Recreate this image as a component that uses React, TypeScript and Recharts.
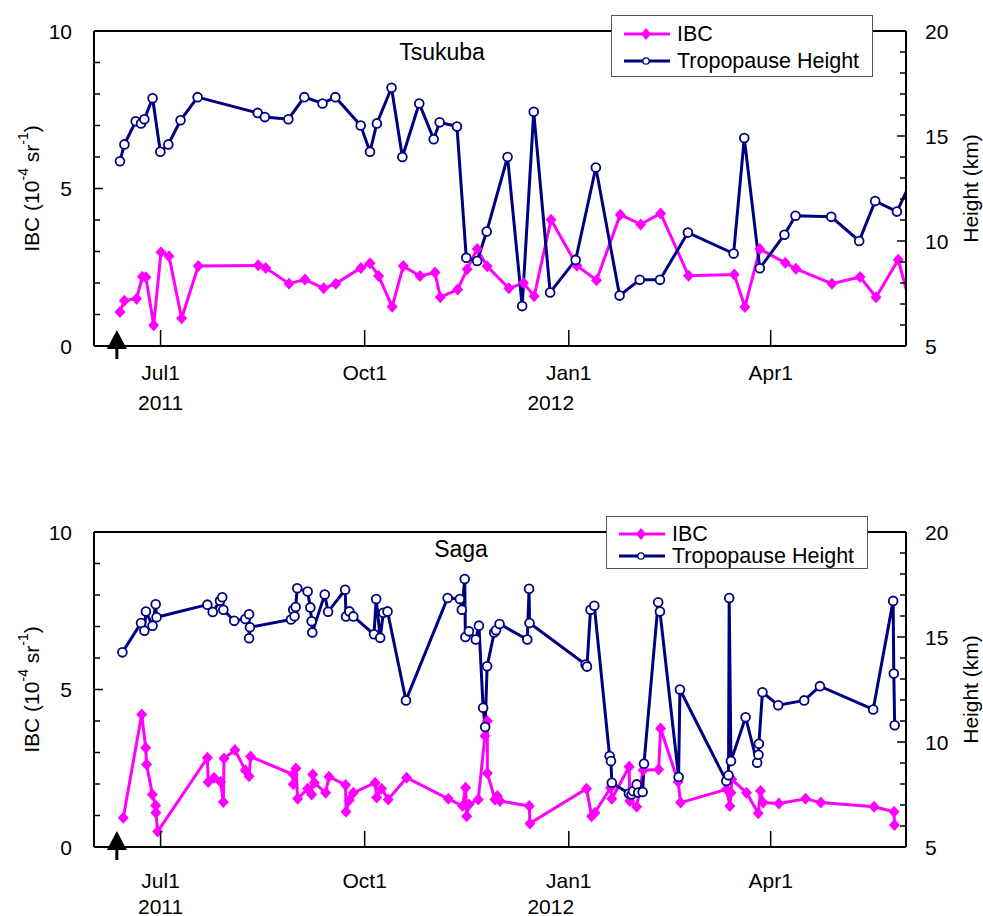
import { Legend, Line, LineChart, ReferenceDot, ReferenceLine, XAxis, YAxis } from 'recharts'

// day numbers counted from 1 Jun 2011
const MONTH_TICKS = [30, 122, 214, 305]
const MONTH_LABELS = ['Jul1', 'Oct1', 'Jan1', 'Apr1']
const YEAR_LABELS = ['2011', '', '2012', '']
const IBC_TICKS = [0, 1, 2, 3, 4, 5, 6, 7, 8, 9, 10]
const HEIGHT_TICKS = [5, 6, 7, 8, 9, 10, 11, 12, 13, 14, 15, 16, 17, 18, 19, 20]
const ARROW_DAY = 10.3

const tsukubaHeightDays = [
  11.7, 13.7, 18.8, 21.2, 22.7, 26.4, 29.9, 33.5, 39, 46.7, 73.8, 77, 87.6, 94.8, 103, 108.8,
  120.2, 124.4, 127.5, 134.1, 139, 146.6, 153.1, 155.8, 163.6, 167.8, 172.7, 177, 186.4, 193,
  198.2, 205.6, 217.1, 226.2, 236.9, 246, 255.1, 267.7, 288.3, 293.1, 300.1, 311.2, 316.2,
  332.3, 344.9, 352.1, 361.9, 369,
]
const tsukubaHeightKm = [
  13.8, 14.6, 15.7, 15.6, 15.8, 16.8, 14.25, 14.6, 15.75, 16.85, 16.1, 15.9, 15.8, 16.85, 16.55,
  16.85, 15.5, 14.25, 15.6, 17.3, 14.0, 16.55, 14.85, 15.65, 15.45, 9.2, 9.05, 10.45, 14.0, 6.9,
  16.15, 7.55, 9.1, 13.5, 7.4, 8.15, 8.15, 10.4, 9.4, 14.9, 8.7, 10.3, 11.2, 11.15, 10.0, 11.9,
  11.4, 13.0,
]
const tsukubaIbcDays = [
  11.7, 13.7, 19.2, 21.8, 23.4, 26.9, 30.2, 33.8, 39.5, 47, 74, 77.4, 87.9, 95.1, 103.5, 109,
  120.3, 124.4, 128.3, 134.4, 139.4, 146.9, 153.7, 156.1, 163.9, 168.2, 172.7, 177.2, 187,
  193.6, 198.4, 206, 217.7, 226.5, 237.2, 246.4, 255.4, 268, 288.6, 293.4, 300.1, 311.6, 316.4,
  332.6, 345.3, 352.5, 362.5, 368,
]
const tsukubaIbc = [
  1.08, 1.44, 1.5, 2.2, 2.18, 0.66, 2.98, 2.85, 0.88, 2.54, 2.56, 2.48, 1.98, 2.11, 1.83, 1.98,
  2.48, 2.63, 2.22, 1.25, 2.54, 2.22, 2.33, 1.55, 1.79, 2.44, 3.08, 2.53, 1.83, 2.0, 1.58, 4.01,
  2.55, 2.09, 4.17, 3.86, 4.21, 2.23, 2.27, 1.24, 3.08, 2.64, 2.45, 1.98, 2.19, 1.55, 2.74, 1.3,
]

const sagaHeightDays = [
  12.8, 21.2, 22.7, 23.4, 26.4, 27.8, 28.2, 51.1, 53.5, 56.8, 57.8, 58.3, 63.2, 68.2, 69.9, 69.9,
  70.3, 88.8, 89.8, 90.4, 90.9, 91.6, 96.3, 97.5, 98.1, 98.4, 104, 105.5, 113.2, 113.6, 115.1,
  116.9, 126.2, 127.2, 129, 130.4, 132.3, 140.6, 159.4, 164.9, 165.8, 167.1, 167.4, 169, 172.1,
  173.5, 175.4, 176.3, 177.2, 180.4, 181.2, 182.8, 195.3, 196.1, 196.3, 221.6, 222.2, 223.8,
  225.5, 232.4, 233.0, 233.4, 241.1, 242.3, 243, 244.6, 245.3, 247.3, 247.9, 254.3, 255.1,
  263.5, 264.1, 285, 286.0, 286.3, 287.1, 293.7, 298.9, 299.5, 299.7, 301.3, 308.4, 320.1,
  327.2, 351.2, 360.2, 360.5, 360.9,
]
const sagaHeightKm = [
  14.27, 15.67, 15.3, 16.21, 15.54, 16.56, 15.94, 16.54, 16.19, 16.73, 16.89, 16.3, 15.77, 15.86,
  16.08, 14.94, 15.46, 15.83, 16.3, 15.99, 16.43, 17.32, 17.17, 16.41, 15.75, 15.22, 17.02, 16.2,
  17.25, 15.98, 16.22, 15.98, 15.13, 16.81, 14.96, 16.15, 16.22, 11.98, 16.86, 16.81, 16.3,
  17.76, 15.0, 15.27, 14.88, 15.54, 11.63, 10.72, 13.61, 15.22, 15.32, 15.62, 14.88, 17.3,
  15.67, 13.69, 13.59, 16.3, 16.49, 9.33, 9.09, 8.06, 7.55, 7.5, 7.66, 7.98, 7.59, 7.62, 8.97,
  16.65, 16.21, 8.33, 12.5, 8.14, 8.42, 16.86, 9.09, 11.18, 9.01, 9.39, 9.92, 12.37, 11.75,
  11.98, 12.66, 11.55, 16.72, 13.26, 10.8,
]
const sagaIbcDays = [
  13.2, 21.5, 23.3, 23.7, 26.3, 27.8, 27.9, 28.7, 51.1, 51.5, 54.1, 57.1, 58.3, 58.6, 63.5, 68.2,
  69.9, 70.6, 89.8, 89.8, 91, 91.8, 96.3, 98.1, 98.6, 99.3, 104.4, 105.9, 113.4, 113.6, 115.1,
  116.9, 126.7, 127.4, 129.6, 132.6, 140.9, 159.7, 166.1, 167.5, 168, 169, 173.2, 176.2, 177.3,
  177.3, 180.7, 181.8, 183, 196.2, 196.5, 222, 224.3, 225.8, 232.8, 233.4, 241.2, 241.5, 244.6,
  247.5, 254.5, 255.4, 263.3, 264.4, 285.1, 286.6, 287.1, 287.5, 294.1, 299.4, 300.4, 301.6,
  308.7, 320.7, 327.6, 351.6, 360.6, 360.8,
]
const sagaIbc = [
  0.93, 4.21, 3.15, 2.62, 1.67, 1.32, 1.09, 0.49, 2.83, 2.06, 2.2, 2.06, 1.43, 2.81, 3.08, 2.44,
  2.25, 2.87, 2.3, 1.99, 2.49, 1.53, 1.85, 1.67, 2.3, 2.04, 1.72, 2.23, 1.97, 1.12, 1.49, 1.72,
  2.04, 1.57, 1.85, 1.51, 2.2, 1.53, 1.3, 1.88, 0.98, 1.35, 1.51, 3.52, 4.0, 2.34, 1.51, 1.62,
  1.46, 1.3, 0.75, 1.85, 0.98, 1.09, 1.88, 1.53, 2.55, 1.46, 1.28, 2.44, 2.46, 3.76, 2.07, 1.41,
  1.83, 1.3, 1.72, 2.15, 1.72, 1.07, 1.78, 1.41, 1.38, 1.53, 1.41, 1.28, 1.12, 0.7,
]

const IBC_COLOR = '#ff00ff'
const HEIGHT_COLOR = '#000080'
const FONT = '"Liberation Sans", Arial, sans-serif'

function Diamond({ cx, cy }: any) {
  if (cx == null || cy == null) return null
  return <polygon points={`${cx},${cy - 6} ${cx + 5.5},${cy} ${cx},${cy + 6} ${cx - 5.5},${cy}`} fill={IBC_COLOR} />
}

function Ring({ cx, cy }: any) {
  if (cx == null || cy == null) return null
  return <circle cx={cx} cy={cy} r={4.4} fill="#fff" stroke={HEIGHT_COLOR} strokeWidth={1.8} />
}

function Arrow({ cx, cy }: any) {
  return (
    <g>
      <polygon points={`${cx},${cy - 16} ${cx + 10},${cy + 3} ${cx - 10},${cy + 3}`} fill="#000" />
      <line x1={cx} x2={cx} y1={cy} y2={cy + 13} stroke="#000" strokeWidth={3} />
    </g>
  )
}

function LeftTick({ x, y, payload }: any) {
  const major = payload.value % 5 === 0
  return (
    <g>
      <line x1={x} x2={x + (major ? 9 : 6)} y1={y} y2={y} stroke="#000" strokeWidth={1.5} />
      {major && (
        <text x={x - 22} y={y} textAnchor="end" dominantBaseline="central" fontSize={21} fill="#000">
          {payload.value}
        </text>
      )}
    </g>
  )
}

function RightTick({ x, y, payload }: any) {
  const major = payload.value % 5 === 0
  return (
    <g>
      <line x1={x} x2={x - (major ? 9 : 6)} y1={y} y2={y} stroke="#000" strokeWidth={1.5} />
      {major && (
        <text x={x + 19} y={y} textAnchor="start" dominantBaseline="central" fontSize={21} fill="#000">
          {payload.value}
        </text>
      )}
    </g>
  )
}

function makeDateTick(monthDy: number, yearDy: number) {
  return function DateTick({ x, y, payload }: any) {
    const i = MONTH_TICKS.indexOf(payload.value)
    return (
      <g>
        <line x1={x} x2={x} y1={y} y2={y - 16} stroke="#000" strokeWidth={1.5} />
        <text x={x} y={y + monthDy} textAnchor="middle" dominantBaseline="central" fontSize={21} fill="#000">
          {MONTH_LABELS[i]}
        </text>
        {YEAR_LABELS[i] && (
          <text
            x={x + (i === 0 ? 0 : -18)}
            y={y + yearDy}
            textAnchor="middle"
            dominantBaseline="central"
            fontSize={21}
            fill="#000"
          >
            {YEAR_LABELS[i]}
          </text>
        )}
      </g>
    )
  }
}

function IbcLabel(props: any) {
  const vb = props.viewBox ?? props
  const cx = vb.x + 31
  const cy = vb.y + vb.height / 2
  return (
    <text
      x={cx}
      y={cy}
      transform={`rotate(-90, ${cx}, ${cy})`}
      textAnchor="middle"
      dominantBaseline="central"
      fontSize={21}
      fill="#000"
    >
      IBC (10
      <tspan dy={-8} fontSize={14}>
        -4
      </tspan>
      <tspan dy={8}> sr</tspan>
      <tspan dy={-8} fontSize={14}>
        -1
      </tspan>
      <tspan dy={8}>)</tspan>
    </text>
  )
}

function HeightLabel(props: any) {
  const vb = props.viewBox ?? props
  const cx = vb.x + 64
  const cy = vb.y + vb.height / 2
  return (
    <text
      x={cx}
      y={cy}
      transform={`rotate(-90, ${cx}, ${cy})`}
      textAnchor="middle"
      dominantBaseline="central"
      fontSize={21}
      fill="#000"
    >
      Height (km)
    </text>
  )
}

function LegendBox({ height, rowTops }: { height: number; rowTops: number[] }) {
  const rows = [
    { label: 'IBC', marker: <polygon points="22,1 27,7 22,13 17,7" fill={IBC_COLOR} />, color: IBC_COLOR },
    {
      label: 'Tropopause Height',
      marker: <circle cx={22} cy={7} r={3.2} fill="#fff" stroke={HEIGHT_COLOR} strokeWidth={1.3} />,
      color: HEIGHT_COLOR,
    },
  ]
  return (
    <div
      style={{
        position: 'relative',
        width: 262,
        height,
        boxSizing: 'border-box',
        border: '1px solid #555',
        background: '#fff',
        fontFamily: FONT,
        fontSize: 21.5,
        color: '#000',
      }}
    >
      {rows.map((row, i) => (
        <div key={row.label} style={{ position: 'absolute', left: 0, top: rowTops[i], width: 250, height: 20 }}>
          <svg width={46} height={14} style={{ position: 'absolute', left: 12, top: 2.8 }}>
            <line x1={0} x2={46} y1={7} y2={7} stroke={row.color} strokeWidth={3} />
            {row.marker}
          </svg>
          <span style={{ position: 'absolute', left: 65, top: 0, height: 20, lineHeight: '20px', whiteSpace: 'nowrap' }}>
            {row.label}
          </span>
        </div>
      ))}
    </div>
  )
}

type PanelProps = {
  title: string
  top: number
  chartHeight: number
  marginTop: number
  marginBottom: number
  xAxisHeight: number
  titleLeft: number
  titleTop: number
  legendLeft: number
  legendTop: number
  legendHeight: number
  legendRows: number[]
  monthDy: number
  yearDy: number
  ibcDays: number[]
  ibcValues: number[]
  heightDays: number[]
  heightValues: number[]
}

function StationPanel(p: PanelProps) {
  const ibcData = p.ibcDays.map((day, i) => ({ day, ibc: p.ibcValues[i] }))
  const heightData = p.heightDays.map((day, i) => ({ day, height: p.heightValues[i] }))
  const DateTick = makeDateTick(p.monthDy, p.yearDy)

  return (
    <div style={{ position: 'absolute', left: 0, top: p.top, width: 983, height: p.chartHeight }}>
      <LineChart
        width={983}
        height={p.chartHeight}
        margin={{ top: p.marginTop, right: 0, bottom: p.marginBottom, left: 0 }}
        style={{ fontFamily: FONT }}
      >
        <XAxis
          dataKey="day"
          type="number"
          domain={[0, 366]}
          allowDataOverflow
          ticks={MONTH_TICKS}
          interval={0}
          tickSize={0}
          tickMargin={0}
          tickLine={false}
          tick={<DateTick />}
          height={p.xAxisHeight}
          axisLine={{ stroke: '#000', strokeWidth: 2 }}
        />
        <YAxis
          yAxisId="left"
          domain={[0, 10]}
          ticks={IBC_TICKS}
          interval={0}
          width={94}
          tickSize={0}
          tickMargin={0}
          tickLine={false}
          tick={<LeftTick />}
          axisLine={{ stroke: '#000', strokeWidth: 2 }}
          label={IbcLabel}
        />
        <YAxis
          yAxisId="right"
          orientation="right"
          domain={[5, 20]}
          ticks={HEIGHT_TICKS}
          interval={0}
          width={77}
          tickSize={0}
          tickMargin={0}
          tickLine={false}
          tick={<RightTick />}
          axisLine={{ stroke: '#000', strokeWidth: 2 }}
          label={HeightLabel}
        />
        <ReferenceLine yAxisId="left" y={10} stroke="#000" strokeWidth={2} />
        <Line
          data={ibcData}
          dataKey="ibc"
          name="IBC"
          yAxisId="left"
          stroke={IBC_COLOR}
          strokeWidth={3}
          dot={<Diamond />}
          activeDot={false}
          isAnimationActive={false}
        />
        <Line
          data={heightData}
          dataKey="height"
          name="Tropopause Height"
          yAxisId="right"
          stroke={HEIGHT_COLOR}
          strokeWidth={3}
          dot={<Ring />}
          activeDot={false}
          isAnimationActive={false}
        />
        <ReferenceDot yAxisId="left" x={ARROW_DAY} y={0} r={0} ifOverflow="visible" shape={<Arrow />} />
        <Legend
          layout="horizontal"
          verticalAlign="middle"
          align="center"
          wrapperStyle={{ left: p.legendLeft, top: p.legendTop, width: 'auto' }}
          content={() => <LegendBox height={p.legendHeight} rowTops={p.legendRows} />}
        />
      </LineChart>
      <div
        style={{
          position: 'absolute',
          left: p.titleLeft,
          top: p.titleTop,
          transform: 'translateX(-50%)',
          fontFamily: FONT,
          fontSize: 23,
          lineHeight: 1,
          color: '#000',
        }}
      >
        {p.title}
      </div>
    </div>
  )
}

export default function App() {
  return (
    <div style={{ position: 'absolute', left: 0, top: 0, width: 983, height: 916, background: '#fff', overflow: 'hidden' }}>
      <StationPanel
        title="Tsukuba"
        top={0}
        chartHeight={460}
        marginTop={31}
        marginBottom={34}
        xAxisHeight={80}
        titleLeft={442}
        titleTop={40.5}
        legendLeft={611}
        legendTop={15}
        legendHeight={62}
        legendRows={[8.2, 35.2]}
        monthDy={26}
        yearDy={56}
        ibcDays={tsukubaIbcDays}
        ibcValues={tsukubaIbc}
        heightDays={tsukubaHeightDays}
        heightValues={tsukubaHeightKm}
      />
      <StationPanel
        title="Saga"
        top={500}
        chartHeight={416}
        marginTop={32}
        marginBottom={0}
        xAxisHeight={69}
        titleLeft={461}
        titleTop={37.5}
        legendLeft={606}
        legendTop={16}
        legendHeight={53}
        legendRows={[6.8, 28.8]}
        monthDy={33}
        yearDy={59}
        ibcDays={sagaIbcDays}
        ibcValues={sagaIbc}
        heightDays={sagaHeightDays}
        heightValues={sagaHeightKm}
      />
    </div>
  )
}
